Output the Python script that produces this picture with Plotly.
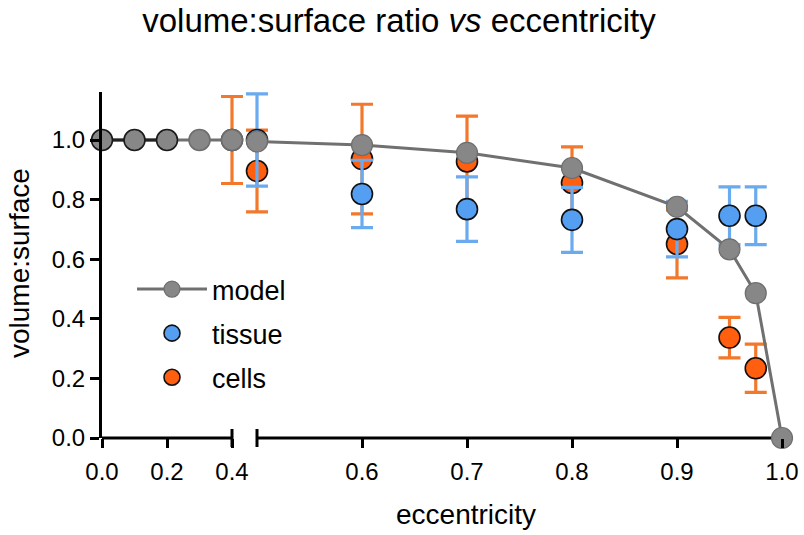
import plotly.graph_objects as go

# ---------------- data ----------------
model_x = [0.0, 0.1, 0.2, 0.3, 0.4, 0.5, 0.6, 0.7, 0.8, 0.9, 0.95, 0.975, 1.0]
model_y = [1.0, 1.0, 1.0, 1.0, 1.0, 0.995, 0.983, 0.957, 0.906, 0.776, 0.633, 0.486, 0.0]

tissue_x = [0.5, 0.6, 0.7, 0.8, 0.9, 0.95, 0.975]
tissue_y = [1.0, 0.819, 0.768, 0.732, 0.701, 0.746, 0.746]
tissue_err = [0.155, 0.113, 0.108, 0.109, 0.093, 0.097, 0.097]

cells_x = [0.4, 0.5, 0.6, 0.7, 0.8, 0.9, 0.95, 0.975]
cells_y = [1.0, 0.896, 0.936, 0.928, 0.856, 0.651, 0.337, 0.234]
cells_err = [0.146, 0.137, 0.184, 0.152, 0.121, 0.114, 0.068, 0.081]

left_ticks = [0.0, 0.2, 0.4]
right_ticks = [0.6, 0.7, 0.8, 0.9, 1.0]
y_ticks = [0.0, 0.2, 0.4, 0.6, 0.8, 1.0]
BREAK_LO, BREAK_HI = 0.4, 0.5

# ---------------- styles ----------------
FONT = "Liberation Sans, Arial, Helvetica, sans-serif"
GRAY_FILL = "#878787"
GRAY_EDGE = "#6e6e6e"
GRAY_LINE = "#707070"
BLUE_FILL = "#559ff2"
BLUE_BAR = "#6aabf0"
ORANGE_FILL = "#ff5f0f"
ORANGE_BAR = "#f2782c"
MS = 21
W, H = 804, 535

# pixel geometry of the two axis segments
L0_PX, L_PER = 102, 325.0      # left segment: x=0 at 102px, 325 px per unit
R1_PX, R_PER = 782, 1050.0     # right segment: x=1 at 782px, 1050 px per unit
PAD_L, PAD_R = 0.045, 0.016    # room so error-bar caps at the break are not clipped
left_range = [0.0, BREAK_LO + PAD_L]
right_range = [BREAK_HI - PAD_R, 1.0]
left_dom_px = [L0_PX, L0_PX + (left_range[1] - left_range[0]) * L_PER]
right_dom_px = [R1_PX - (right_range[1] - right_range[0]) * R_PER, R1_PX]

y_top_px, y0_px = 92, 438
y_per = 298.0
y_max = (y0_px - y_top_px) / y_per


def px_x(p):
    return p / W


def px_y(p):
    return 1 - p / H


def split(xs, ys, errs=None):
    left = [i for i, v in enumerate(xs) if v <= BREAK_LO]
    right = [i for i, v in enumerate(xs) if v >= BREAK_HI]

    def pick(idx, arr):
        return [arr[i] for i in idx] if arr is not None else None
    return ((pick(left, xs), pick(left, ys), pick(left, errs)),
            (pick(right, xs), pick(right, ys), pick(right, errs)))


fig = go.Figure()


def data_traces(xs, ys, errs, name, fill, bar, rank):
    (lx, ly, le), (rx, ry, re) = split(xs, ys, errs)
    for (x, y, e, ax, show) in [(lx, ly, le, "x", False), (rx, ry, re, "x2", True)]:
        if not x:
            continue
        fig.add_trace(go.Scatter(
            x=x, y=y, xaxis=ax, yaxis="y", mode="markers", name=name,
            showlegend=show, legendgroup=name, legendrank=rank,
            cliponaxis=False,
            marker=dict(size=MS, color=fill, line=dict(color="#111111", width=1.6)),
            error_y=dict(type="data", array=e, visible=True, color=bar,
                         thickness=3.2, width=11),
        ))


data_traces(cells_x, cells_y, cells_err, "cells", ORANGE_FILL, ORANGE_BAR, 3)
data_traces(tissue_x, tissue_y, tissue_err, "tissue", BLUE_FILL, BLUE_BAR, 2)

(mlx, mly, _), (mrx, mry, _) = split(model_x, model_y)
fig.add_trace(go.Scatter(x=mlx, y=mly, xaxis="x", yaxis="y", mode="lines",
                         line=dict(color=GRAY_LINE, width=3), showlegend=False,
                         cliponaxis=False, hoverinfo="skip"))
fig.add_trace(go.Scatter(x=mlx[:3], y=mly[:3], xaxis="x", yaxis="y", mode="lines",
                         line=dict(color="#222222", width=3), showlegend=False,
                         cliponaxis=False, hoverinfo="skip"))
edge_cols = ["#1a1a1a" if i < 3 else GRAY_EDGE for i in range(len(mlx))]
fig.add_trace(go.Scatter(x=mlx, y=mly, xaxis="x", yaxis="y", mode="markers",
                         marker=dict(size=MS, color=GRAY_FILL,
                                     line=dict(color=edge_cols, width=1.6)),
                         showlegend=False, cliponaxis=False, name="model"))
fig.add_trace(go.Scatter(x=mrx, y=mry, xaxis="x2", yaxis="y", mode="lines+markers",
                         name="model", legendgroup="model", legendrank=1,
                         line=dict(color=GRAY_LINE, width=3),
                         marker=dict(size=MS, color=GRAY_FILL,
                                     line=dict(color=GRAY_EDGE, width=1.2)),
                         cliponaxis=False))

# ---------------- layout ----------------
tickfont = dict(family=FONT, size=24, color="black")
x_common = dict(showline=False, ticks="outside", ticklen=9, tickwidth=3,
                tickcolor="black", showgrid=False, zeroline=False, tickfont=tickfont,
                fixedrange=True, automargin=False, anchor="y", ticklabelstandoff=3)

fig.update_layout(
    template="none",
    width=W, height=H,
    margin=dict(l=0, r=0, t=0, b=0, pad=0),
    paper_bgcolor="white", plot_bgcolor="rgba(0,0,0,0)",
    font=dict(family=FONT, color="black"),
    title=dict(text="volume:surface ratio <i>vs</i> eccentricity",
               font=dict(family=FONT, size=33, color="black"),
               x=399 / W, xanchor="center", xref="paper",
               y=1 - 20 / H, yanchor="middle", yref="container"),
    xaxis=dict(domain=[px_x(left_dom_px[0]), px_x(left_dom_px[1])], range=left_range,
               tickvals=left_ticks, ticktext=[f"{v:.1f}" for v in left_ticks],
               **x_common),
    xaxis2=dict(domain=[px_x(right_dom_px[0]), px_x(right_dom_px[1])], range=right_range,
                tickvals=right_ticks, ticktext=[f"{v:.1f}" for v in right_ticks],
                **x_common),
    yaxis=dict(domain=[px_y(y0_px), px_y(y_top_px)], range=[0, y_max], anchor="x",
               tickvals=y_ticks, ticktext=[f"{v:.1f}" for v in y_ticks],
               showline=True, linecolor="black", linewidth=3, ticks="outside",
               ticklen=9, tickwidth=3, tickcolor="black", showgrid=False,
               zeroline=False, tickfont=tickfont, fixedrange=True, automargin=False),
    legend=dict(x=px_x(132), y=px_y(265), xanchor="left", yanchor="top",
                font=dict(family=FONT, size=27, color="black"),
                bgcolor="rgba(0,0,0,0)", borderwidth=0, tracegroupgap=6,
                itemwidth=70, traceorder="grouped"),
    showlegend=True,
    hovermode="closest",
)

# x-axis segments drawn as lines (so the break can have room for error caps)
y_axis_paper = px_y(y0_px)
for (a, b, xr) in [(0.0, BREAK_LO, "x"), (BREAK_HI, 1.0, "x2")]:
    fig.add_shape(type="line", xref=xr, yref="paper", x0=a, x1=b,
                  y0=y_axis_paper, y1=y_axis_paper, layer="below",
                  line=dict(color="black", width=3))
# break caps
for xv, xr in [(BREAK_LO, "x"), (BREAK_HI, "x2")]:
    fig.add_shape(type="line", xref=xr, yref="paper", x0=xv, x1=xv,
                  y0=y_axis_paper - 9 / H, y1=y_axis_paper + 9 / H, layer="below",
                  line=dict(color="black", width=3))

fig.add_annotation(text="eccentricity", xref="paper", yref="paper",
                   x=px_x(466), y=px_y(514), xanchor="center", yanchor="middle",
                   showarrow=False, font=dict(family=FONT, size=28, color="black"))
fig.add_annotation(text="volume:surface", xref="paper", yref="paper",
                   x=px_x(19), y=px_y(263), xanchor="center", yanchor="middle",
                   textangle=-90, showarrow=False,
                   font=dict(family=FONT, size=28, color="black"))

fig.write_html(
    "out.html",
    config={"displayModeBar": False},
    post_script="document.body.style.margin='0px';document.body.style.overflow='hidden';",
)
